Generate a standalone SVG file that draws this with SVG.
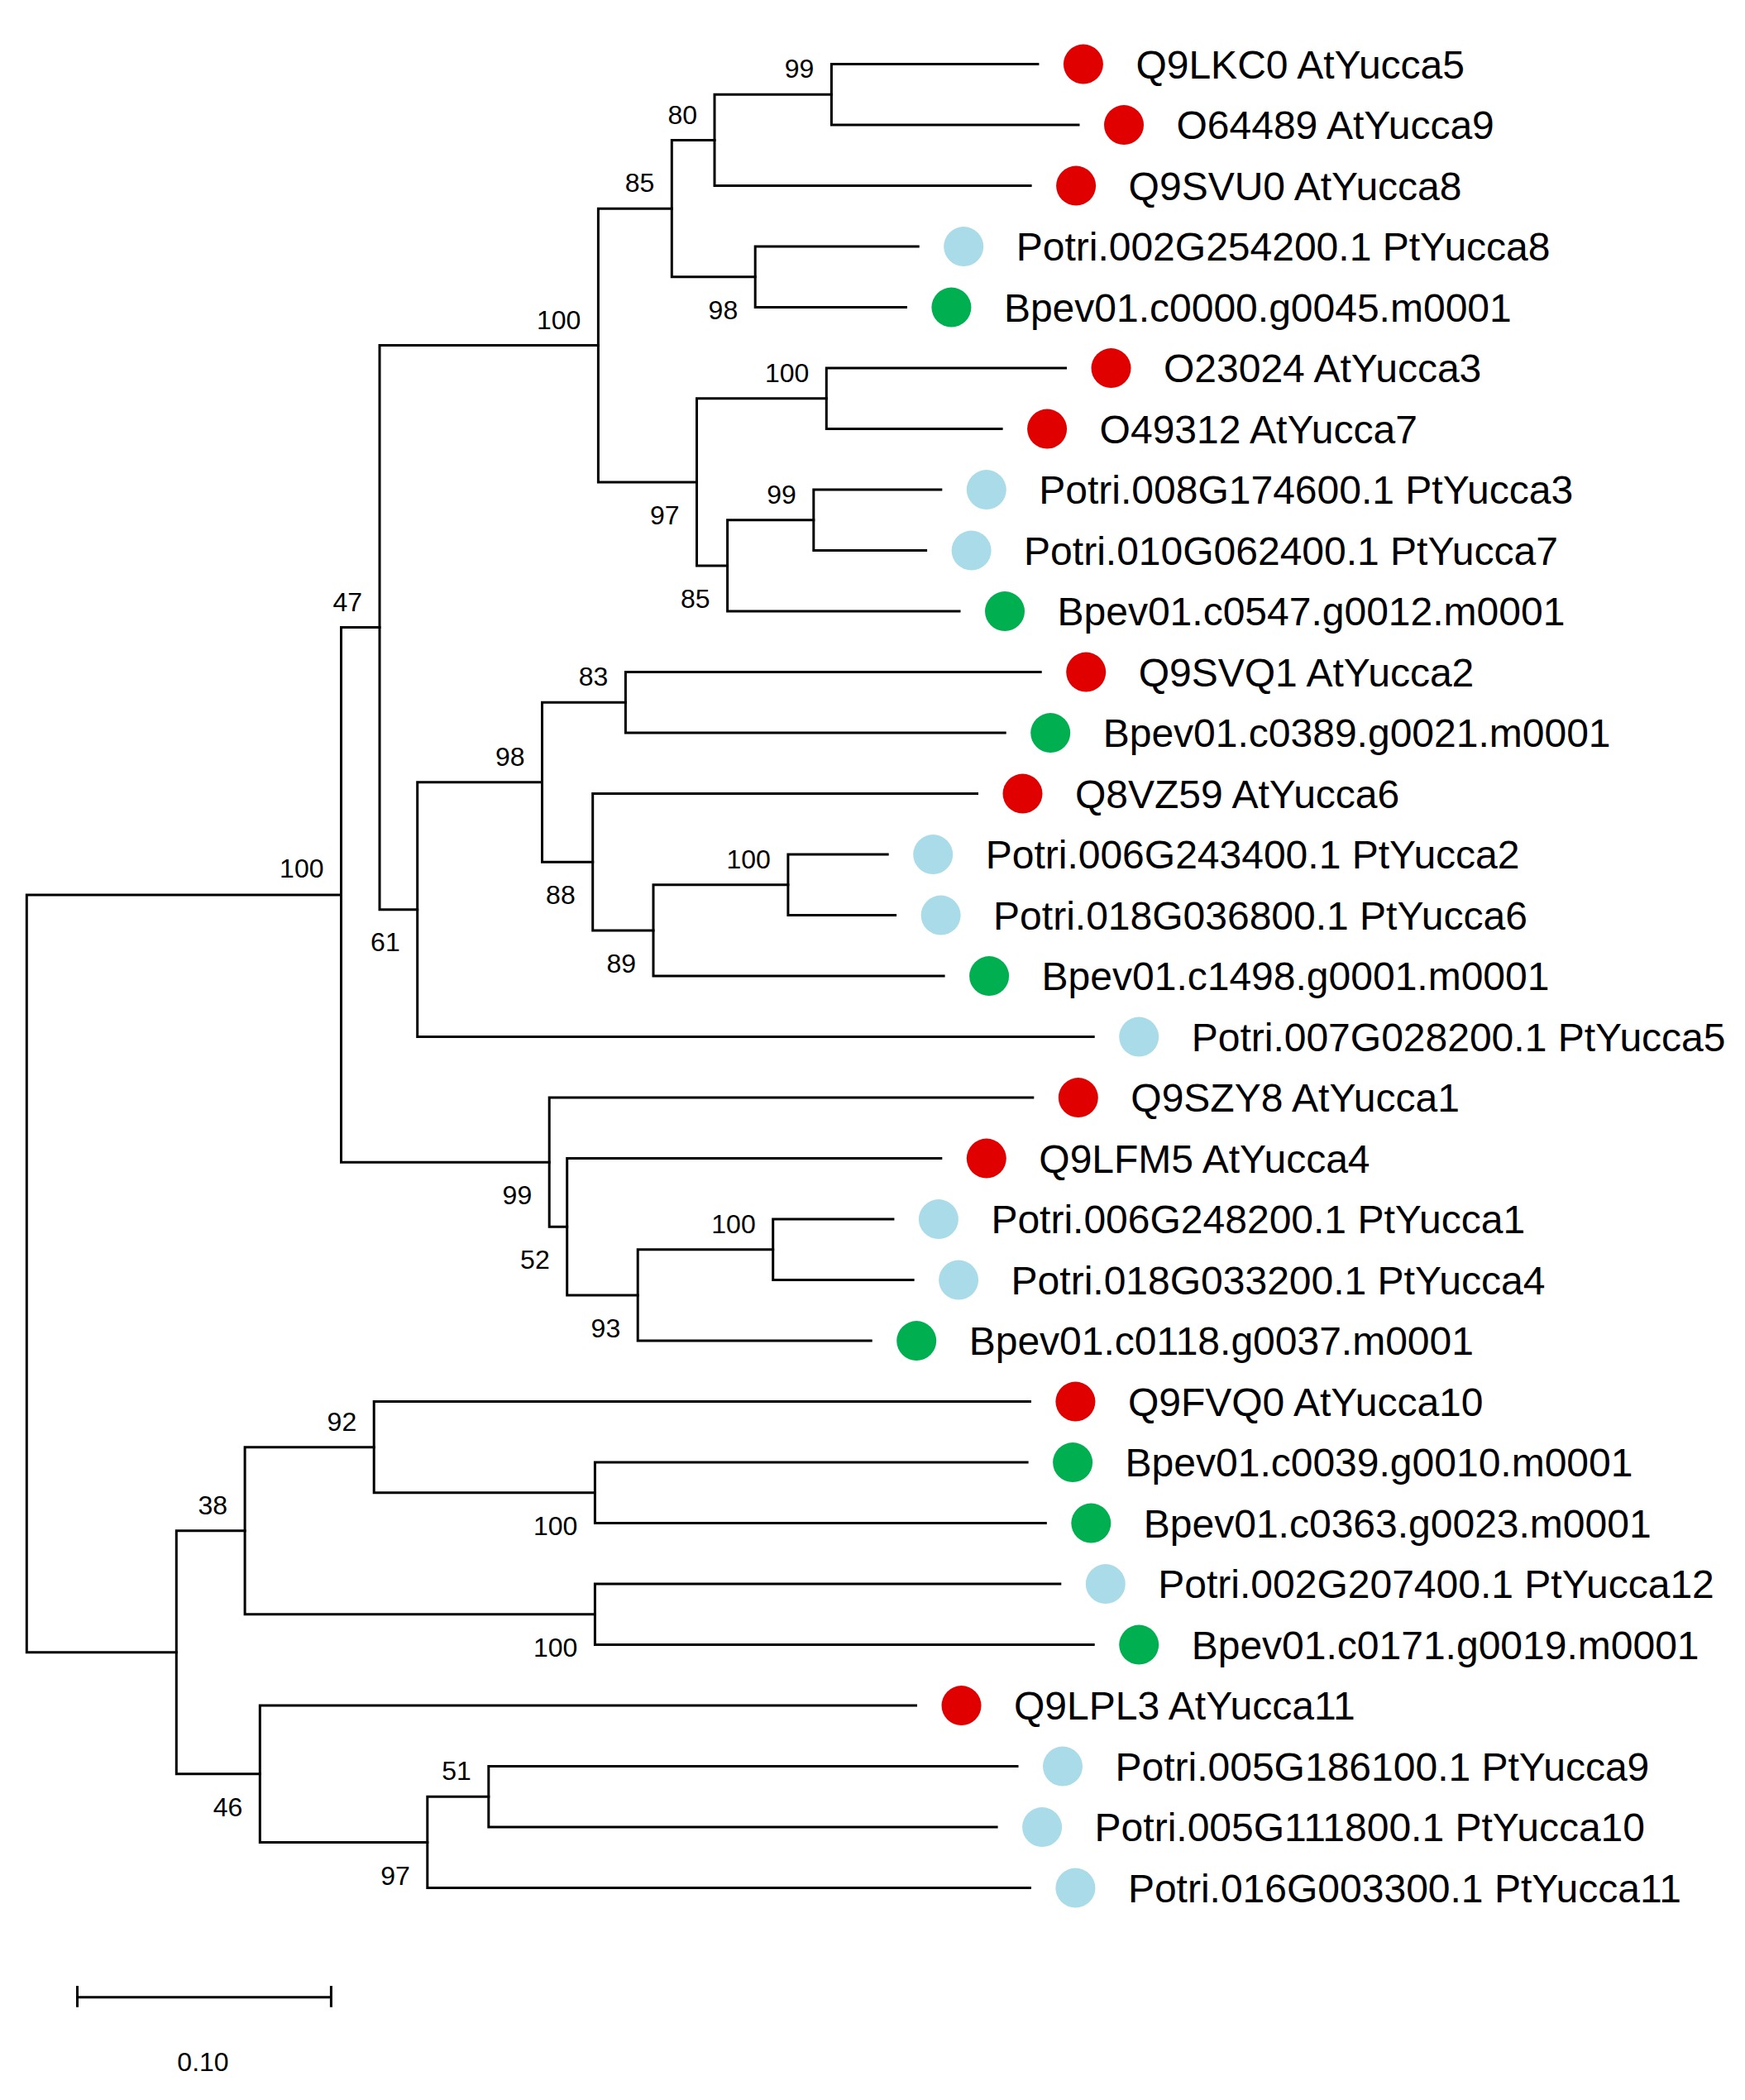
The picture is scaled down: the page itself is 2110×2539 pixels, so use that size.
<svg xmlns="http://www.w3.org/2000/svg" width="2110" height="2539" viewBox="0 0 2110 2539">
<style>
.br{fill:none;stroke:#000;stroke-width:3;stroke-linecap:square}
.lb{font-family:"Liberation Sans",Arial,sans-serif;font-size:48px;fill:#000}
.bs{font-family:"Liberation Sans",Arial,sans-serif;font-size:32px;fill:#000;text-anchor:end}
.at{fill:#E00000}
.pt{fill:#A9DCE8}
.bp{fill:#00B050}
</style>
<rect width="2110" height="2539" fill="#fff"/>
<g id="connectors">
<path class="br" d="M32.3 1539.9V1081.9H412.5M32.3 1539.9V1997.8H213.3"/>
<path class="br" d="M412.5 1081.9V758.6H459M412.5 1081.9V1405.2H664.2"/>
<path class="br" d="M459 758.6V417.55H723.4M459 758.6V1099.7H504.7"/>
<path class="br" d="M723.4 417.55V252.2H812.3M723.4 417.55V582.9H842.5"/>
<path class="br" d="M812.3 252.2V169.5H864M812.3 252.2V334.85H913.2"/>
<path class="br" d="M864 169.5V114.35H1005.4M864 169.5V224.6H1246.1"/>
<path class="br" d="M1005.4 114.35V77.6H1254.9M1005.4 114.35V151.1H1304"/>
<path class="br" d="M913.2 334.85V298.1H1110.2M913.2 334.85V371.6H1095.4"/>
<path class="br" d="M842.5 582.9V481.85H999.3M842.5 582.9V683.98H879.6"/>
<path class="br" d="M999.3 481.85V445.1H1288.5M999.3 481.85V518.6H1211.1"/>
<path class="br" d="M879.6 683.98V628.85H983.8M879.6 683.98V739.1H1160"/>
<path class="br" d="M983.8 628.85V592.1H1137.8M983.8 628.85V665.6H1119.6"/>
<path class="br" d="M504.7 1099.7V945.8H655.5M504.7 1099.7V1253.6H1322.2"/>
<path class="br" d="M655.5 945.8V849.35H756.4M655.5 945.8V1042.3H716.7"/>
<path class="br" d="M756.4 849.35V812.6H1258.2M756.4 849.35V886.1H1215.2"/>
<path class="br" d="M716.7 1042.3V959.6H1181.5M716.7 1042.3V1125H790"/>
<path class="br" d="M790 1125V1069.85H952.9M790 1125V1180.1H1141.1"/>
<path class="br" d="M952.9 1069.85V1033.1H1073.2M952.9 1069.85V1106.6H1082.6"/>
<path class="br" d="M664.2 1405.2V1327.1H1248.8M664.2 1405.2V1483.3H685.7"/>
<path class="br" d="M685.7 1483.3V1400.6H1137.8M685.7 1483.3V1566H771.2"/>
<path class="br" d="M771.2 1566V1510.85H934.7M771.2 1566V1621.1H1053.2"/>
<path class="br" d="M934.7 1510.85V1474.1H1079.9M934.7 1510.85V1547.6H1104.1"/>
<path class="br" d="M213.3 1997.8V1850.8H296.1M213.3 1997.8V2144.8H314.3"/>
<path class="br" d="M296.1 1850.8V1749.7H452.2M296.1 1850.8V1951.85H719.4"/>
<path class="br" d="M452.2 1749.7V1694.6H1245.4M452.2 1749.7V1804.85H719.4"/>
<path class="br" d="M719.4 1804.85V1768.1H1242.1M719.4 1804.85V1841.6H1264.3"/>
<path class="br" d="M719.4 1951.85V1915.1H1281.8M719.4 1951.85V1988.6H1322.2"/>
<path class="br" d="M314.3 2144.8V2062.1H1107.5M314.3 2144.8V2227.5H516.8"/>
<path class="br" d="M516.8 2227.5V2172.35H590.8M516.8 2227.5V2282.6H1245.4"/>
<path class="br" d="M590.8 2172.35V2135.6H1230M590.8 2172.35V2209.1H1205.1"/>
</g>
<g id="bootstrap">
<text class="bs" x="984.4" y="94.4">99</text>
<text class="bs" x="843" y="149.5">80</text>
<text class="bs" x="791.3" y="232.2">85</text>
<text class="bs" x="892.2" y="385.9">98</text>
<text class="bs" x="702.4" y="397.6">100</text>
<text class="bs" x="978.3" y="461.9">100</text>
<text class="bs" x="962.8" y="608.9">99</text>
<text class="bs" x="821.5" y="633.9">97</text>
<text class="bs" x="858.6" y="735">85</text>
<text class="bs" x="438" y="738.6">47</text>
<text class="bs" x="735.4" y="829.4">83</text>
<text class="bs" x="634.5" y="925.8">98</text>
<text class="bs" x="931.9" y="1049.9">100</text>
<text class="bs" x="391.5" y="1060.5">100</text>
<text class="bs" x="695.7" y="1093.3">88</text>
<text class="bs" x="483.7" y="1149.5">61</text>
<text class="bs" x="769" y="1176">89</text>
<text class="bs" x="643.2" y="1456.2">99</text>
<text class="bs" x="913.7" y="1490.9">100</text>
<text class="bs" x="664.7" y="1534.3">52</text>
<text class="bs" x="750.2" y="1617">93</text>
<text class="bs" x="431.2" y="1729.7">92</text>
<text class="bs" x="275.1" y="1830.8">38</text>
<text class="bs" x="698.4" y="1855.9">100</text>
<text class="bs" x="698.4" y="2002.9">100</text>
<text class="bs" x="569.8" y="2152.4">51</text>
<text class="bs" x="293.3" y="2195.8">46</text>
<text class="bs" x="495.8" y="2278.5">97</text>
</g>
<g id="leaf-1"><circle class="at" cx="1309.9" cy="77.6" r="24"/><text class="lb" x="1373.4" y="94.6">Q9LKC0 AtYucca5</text></g>
<g id="leaf-2"><circle class="at" cx="1359" cy="151.1" r="24"/><text class="lb" x="1422.5" y="168.1">O64489 AtYucca9</text></g>
<g id="leaf-3"><circle class="at" cx="1301.1" cy="224.6" r="24"/><text class="lb" x="1364.6" y="241.6">Q9SVU0 AtYucca8</text></g>
<g id="leaf-4"><circle class="pt" cx="1165.2" cy="298.1" r="24"/><text class="lb" x="1228.7" y="315.1">Potri.002G254200.1 PtYucca8</text></g>
<g id="leaf-5"><circle class="bp" cx="1150.4" cy="371.6" r="24"/><text class="lb" x="1213.9" y="388.6">Bpev01.c0000.g0045.m0001</text></g>
<g id="leaf-6"><circle class="at" cx="1343.5" cy="445.1" r="24"/><text class="lb" x="1407" y="462.1">O23024 AtYucca3</text></g>
<g id="leaf-7"><circle class="at" cx="1266.1" cy="518.6" r="24"/><text class="lb" x="1329.6" y="535.6">O49312 AtYucca7</text></g>
<g id="leaf-8"><circle class="pt" cx="1192.8" cy="592.1" r="24"/><text class="lb" x="1256.3" y="609.1">Potri.008G174600.1 PtYucca3</text></g>
<g id="leaf-9"><circle class="pt" cx="1174.6" cy="665.6" r="24"/><text class="lb" x="1238.1" y="682.6">Potri.010G062400.1 PtYucca7</text></g>
<g id="leaf-10"><circle class="bp" cx="1215" cy="739.1" r="24"/><text class="lb" x="1278.5" y="756.1">Bpev01.c0547.g0012.m0001</text></g>
<g id="leaf-11"><circle class="at" cx="1313.2" cy="812.6" r="24"/><text class="lb" x="1376.7" y="829.6">Q9SVQ1 AtYucca2</text></g>
<g id="leaf-12"><circle class="bp" cx="1270.2" cy="886.1" r="24"/><text class="lb" x="1333.7" y="903.1">Bpev01.c0389.g0021.m0001</text></g>
<g id="leaf-13"><circle class="at" cx="1236.5" cy="959.6" r="24"/><text class="lb" x="1300" y="976.6">Q8VZ59 AtYucca6</text></g>
<g id="leaf-14"><circle class="pt" cx="1128.2" cy="1033.1" r="24"/><text class="lb" x="1191.7" y="1050.1">Potri.006G243400.1 PtYucca2</text></g>
<g id="leaf-15"><circle class="pt" cx="1137.6" cy="1106.6" r="24"/><text class="lb" x="1201.1" y="1123.6">Potri.018G036800.1 PtYucca6</text></g>
<g id="leaf-16"><circle class="bp" cx="1196.1" cy="1180.1" r="24"/><text class="lb" x="1259.6" y="1197.1">Bpev01.c1498.g0001.m0001</text></g>
<g id="leaf-17"><circle class="pt" cx="1377.2" cy="1253.6" r="24"/><text class="lb" x="1440.7" y="1270.6">Potri.007G028200.1 PtYucca5</text></g>
<g id="leaf-18"><circle class="at" cx="1303.8" cy="1327.1" r="24"/><text class="lb" x="1367.3" y="1344.1">Q9SZY8 AtYucca1</text></g>
<g id="leaf-19"><circle class="at" cx="1192.8" cy="1400.6" r="24"/><text class="lb" x="1256.3" y="1417.6">Q9LFM5 AtYucca4</text></g>
<g id="leaf-20"><circle class="pt" cx="1134.9" cy="1474.1" r="24"/><text class="lb" x="1198.4" y="1491.1">Potri.006G248200.1 PtYucca1</text></g>
<g id="leaf-21"><circle class="pt" cx="1159.1" cy="1547.6" r="24"/><text class="lb" x="1222.6" y="1564.6">Potri.018G033200.1 PtYucca4</text></g>
<g id="leaf-22"><circle class="bp" cx="1108.2" cy="1621.1" r="24"/><text class="lb" x="1171.7" y="1638.1">Bpev01.c0118.g0037.m0001</text></g>
<g id="leaf-23"><circle class="at" cx="1300.4" cy="1694.6" r="24"/><text class="lb" x="1363.9" y="1711.6">Q9FVQ0 AtYucca10</text></g>
<g id="leaf-24"><circle class="bp" cx="1297.1" cy="1768.1" r="24"/><text class="lb" x="1360.6" y="1785.1">Bpev01.c0039.g0010.m0001</text></g>
<g id="leaf-25"><circle class="bp" cx="1319.3" cy="1841.6" r="24"/><text class="lb" x="1382.8" y="1858.6">Bpev01.c0363.g0023.m0001</text></g>
<g id="leaf-26"><circle class="pt" cx="1336.8" cy="1915.1" r="24"/><text class="lb" x="1400.3" y="1932.1">Potri.002G207400.1 PtYucca12</text></g>
<g id="leaf-27"><circle class="bp" cx="1377.2" cy="1988.6" r="24"/><text class="lb" x="1440.7" y="2005.6">Bpev01.c0171.g0019.m0001</text></g>
<g id="leaf-28"><circle class="at" cx="1162.5" cy="2062.1" r="24"/><text class="lb" x="1226" y="2079.1">Q9LPL3 AtYucca11</text></g>
<g id="leaf-29"><circle class="pt" cx="1285" cy="2135.6" r="24"/><text class="lb" x="1348.5" y="2152.6">Potri.005G186100.1 PtYucca9</text></g>
<g id="leaf-30"><circle class="pt" cx="1260.1" cy="2209.1" r="24"/><text class="lb" x="1323.6" y="2226.1">Potri.005G111800.1 PtYucca10</text></g>
<g id="leaf-31"><circle class="pt" cx="1300.4" cy="2282.6" r="24"/><text class="lb" x="1363.9" y="2299.6">Potri.016G003300.1 PtYucca11</text></g>
<g id="scale-bar">
<path class="br" d="M93.5 2414.7H400.4M93.5 2402.4V2425.3M400.4 2402.4V2425.3"/>
<text class="bs" x="245.5" y="2504" style="text-anchor:middle">0.10</text>
</g>
</svg>
